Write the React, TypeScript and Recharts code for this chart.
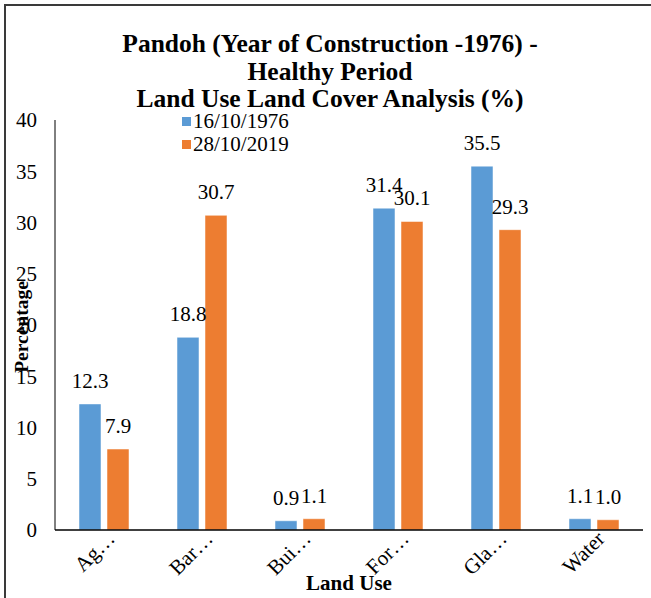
import React from 'react';
import { BarChart, Bar, XAxis, YAxis, LabelList } from 'recharts';

const categories = ['Ag…', 'Bar…', 'Bui…', 'For…', 'Gla…', 'Water'];
const series1976 = [12.3, 18.8, 0.9, 31.4, 35.5, 1.1];
const series2019 = [7.9, 30.7, 1.1, 30.1, 29.3, 1.0];
const yTicks = [0, 5, 10, 15, 20, 25, 30, 35, 40];
const seriesNames = ['16/10/1976', '28/10/2019'];
const colors = ['#5B9BD5', '#ED7D31'];

const data = categories.map((c, i) => ({ name: c, a: series1976[i], b: series2019[i] }));

const FONT = '"Liberation Serif"';

const XTick = (props: any) => {
  const { x, y, payload } = props;
  const ax = x + 12;
  const ay = y + 2;
  return (
    <text x={ax} y={ay} transform={`rotate(-45, ${ax}, ${ay})`} textAnchor="end" fontFamily={FONT} fontSize={21} fill="#000">
      {payload.value}
    </text>
  );
};

export default function App() {
  return (
    <div style={{ position: 'absolute', left: 0, top: 0, width: 651, height: 598, background: '#fff', overflow: 'hidden', fontFamily: FONT }}>
      <div style={{ position: 'absolute', left: 4, top: 4, width: 700, height: 0, borderTop: '2px solid #3a3a3a' }} />
      <div style={{ position: 'absolute', left: 4, top: 4, width: 0, height: 700, borderLeft: '2px solid #3a3a3a' }} />
      <div style={{ position: 'absolute', left: 0, top: 30, width: 660, textAlign: 'center', fontFamily: FONT, fontWeight: 'bold', fontSize: 25.5, lineHeight: '27.5px', color: '#000' }}>
        <div>Pandoh (Year of Construction -1976) -</div>
        <div>Healthy Period</div>
        <div>Land Use Land Cover Analysis (%)</div>
      </div>
      <BarChart
        width={651}
        height={598}
        data={data}
        margin={{ top: 120, right: 8, bottom: 0, left: 10 }}
        barSize={22}
        barGap={6}
        style={{ position: 'absolute', left: 0, top: 0 }}
      >
        <XAxis
          dataKey="name"
          tick={<XTick />}
          tickLine={false}
          axisLine={{ stroke: '#000', strokeWidth: 1.5 }}
          height={68}
          interval={0}
        />
        <YAxis
          domain={[0, 40]}
          ticks={yTicks}
          width={45}
          tickLine={false}
          tickSize={0}
          tickMargin={18}
          axisLine={{ stroke: '#000', strokeWidth: 1 }}
          tick={{ fontFamily: FONT, fontSize: 21, fill: '#000' }}
        />
        <Bar dataKey="a" name={seriesNames[0]} fill={colors[0]} stroke="#ffffff" strokeOpacity={0.5} isAnimationActive={false}>
          <LabelList dataKey="a" position="top" offset={16} formatter={(v: any) => Number(v).toFixed(1)} style={{ fontFamily: FONT, fontSize: 21, fill: '#000' }} />
        </Bar>
        <Bar dataKey="b" name={seriesNames[1]} fill={colors[1]} stroke="#ffffff" strokeOpacity={0.5} isAnimationActive={false}>
          <LabelList dataKey="b" position="top" offset={16} formatter={(v: any) => Number(v).toFixed(1)} style={{ fontFamily: FONT, fontSize: 21, fill: '#000' }} />
        </Bar>
      </BarChart>
      <div style={{ position: 'absolute', left: 182, top: 110, fontFamily: FONT, fontSize: 21, lineHeight: '23px', color: '#000' }}>
        {seriesNames.map((n, i) => (
          <div key={n} style={{ display: 'flex', alignItems: 'center' }}>
            <span style={{ display: 'inline-block', width: 9, height: 9, background: colors[i], marginRight: 2 }} />
            <span>{n}</span>
          </div>
        ))}
      </div>
      <div style={{ position: 'absolute', left: 22, top: 327, transform: 'translate(-50%, -50%) rotate(-90deg)', fontFamily: FONT, fontWeight: 'bold', fontSize: 19.5, color: '#000', whiteSpace: 'nowrap' }}>
        Percentage
      </div>
      <div style={{ position: 'absolute', left: 349, top: 583, transform: 'translate(-50%, -50%)', fontFamily: FONT, fontWeight: 'bold', fontSize: 21, color: '#000', whiteSpace: 'nowrap' }}>
        Land Use
      </div>
    </div>
  );
}
